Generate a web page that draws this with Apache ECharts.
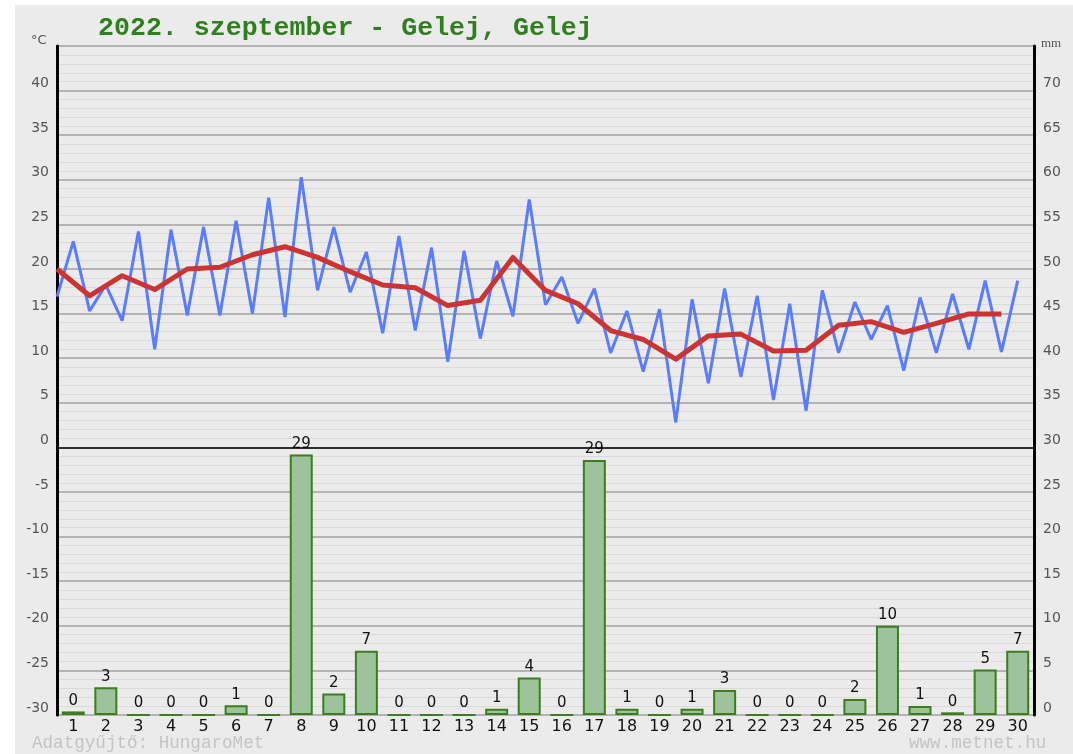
<!DOCTYPE html>
<html>
<head>
<meta charset="utf-8">
<script src="https://cdn.jsdelivr.net/npm/echarts@6/dist/echarts.min.js"></script>
<style>
html,body{margin:0;padding:0;background:#ffffff;}
#bg{position:absolute;left:15px;top:5px;width:1058px;height:749px;background:#ebebeb;}
#chart{position:absolute;left:0;top:0;width:1073px;height:754px;}
</style>
</head>
<body>
<div id="bg"></div>
<div id="chart"></div>
<script>
// Days of the month
const days = Array.from({length: 30}, (_, i) => String(i + 1));
// Daily precipitation (mm)
const precip = [0.4, 3.1, 0, 0, 0, 1.1, 0, 29.2, 2.4, 7.2,
                0, 0, 0, 0.7, 4.2, 0, 28.6, 0.7, 0, 0.7,
                2.8, 0, 0, 0, 1.8, 10.0, 1.0, 0.3, 5.1, 7.2];
// Half-daily temperature readings (°C), two per day
const tempHalfDaily = [
  16.9, 23.1, 15.3, 18.2, 14.2, 24.2, 11.0, 24.4, 14.8, 24.7,
  14.8, 25.4, 15.0, 28.0, 14.6, 30.3, 17.6, 24.7, 17.4, 21.9,
  12.8, 23.7, 13.1, 22.4, 9.6, 22.05, 12.2, 20.9, 14.7, 27.8,
  16.0, 19.1, 13.9, 17.8, 10.6, 15.3, 8.5, 15.5, 2.8, 16.6,
  7.2, 17.8, 7.9, 17.0, 5.3, 16.1, 4.1, 17.6, 10.6, 16.3,
  12.1, 15.9, 8.6, 16.8, 10.6, 17.2, 11.0, 18.7, 10.7, 18.7
];
// Daily mean temperature (°C)
const tempMean = [
  20.0, 17.0, 19.25, 17.7, 20.0, 20.2, 21.6, 22.5, 21.3, 19.7,
  18.2, 17.9, 15.9, 16.5, 21.3, 17.6, 16.1, 13.1, 12.1, 9.9,
  12.5, 12.7, 10.8, 10.9, 13.7, 14.1, 12.9, 13.9, 14.96, 14.96
];
const titleText = '2022. szeptember - Gelej, Gelej';
const footerLeft = 'Adatgyűjtő: HungaroMet';
const footerRight = 'www.metnet.hu';

const chart = echarts.init(document.getElementById('chart'), null, {renderer: 'canvas'});
const labelFont = 'DejaVu Sans';
const option = {
  backgroundColor: 'transparent',
  animation: false,
  title: {
    text: titleText,
    left: 93, top: 10,
    textStyle: {fontFamily: 'Liberation Mono', fontWeight: 'bold', fontSize: 26.6, color: '#2f7f1f'}
  },
  graphic: [
    {type: 'text', left: 31, top: 34, style: {text: '°C', fontFamily: labelFont, fontSize: 13, fill: '#555'}},
    {type: 'text', left: 1041, top: 37, style: {text: 'mm', fontFamily: 'Liberation Serif', fontSize: 13, fill: '#555'}},
    {type: 'text', left: 32, top: 734, style: {text: footerLeft, fontFamily: 'Liberation Mono', fontSize: 17.6, fill: '#c4c4c4'}},
    {type: 'text', left: 909, top: 734, style: {text: footerRight, fontFamily: 'Liberation Mono', fontSize: 17.6, fill: '#c4c4c4'}}
  ],
  grid: {left: 57, right: 39, top: 46, bottom: 39},
  xAxis: [
    {
      type: 'category', data: days, boundaryGap: true,
      axisLine: {show: false}, axisTick: {show: false}, splitLine: {show: false},
      axisLabel: {color: '#111', fontFamily: labelFont, fontSize: 16, margin: 4, interval: 0}
    },
    {
      type: 'value', min: 0, max: 30, show: false
    }
  ],
  yAxis: [
    {
      type: 'value', min: -30, max: 45, interval: 5, position: 'left',
      axisLine: {show: true, onZero: false, lineStyle: {color: '#000', width: 3}},
      axisTick: {show: false},
      axisLabel: {
        color: '#555', fontFamily: labelFont, fontSize: 14, margin: 8,
        verticalAlign: 'bottom', lineHeight: 14,
        formatter: v => (v === 45 ? '' : String(v))
      },
      splitLine: {show: true, lineStyle: {color: '#a0a0a0', width: 1.5}},
      minorTick: {show: false, splitNumber: 5},
      minorSplitLine: {show: true, lineStyle: {color: '#dadada', width: 1.2}}
    },
    {
      type: 'value', min: 0, max: 75, interval: 5, position: 'right',
      axisLine: {show: true, onZero: false, lineStyle: {color: '#000', width: 3}},
      axisTick: {show: false},
      axisLabel: {
        color: '#555', fontFamily: labelFont, fontSize: 14, margin: 9,
        verticalAlign: 'bottom', lineHeight: 14,
        formatter: v => (v === 75 ? '' : String(v))
      },
      splitLine: {show: false}
    }
  ],
  series: [
    {
      type: 'bar', xAxisIndex: 0, yAxisIndex: 1, data: precip,
      barWidth: 23,
      itemStyle: {color: '#9cc39c', borderColor: '#3d7d1e', borderWidth: 2},
      label: {
        show: true, position: 'top', distance: 3,
        color: '#111', fontFamily: labelFont, fontSize: 15,
        formatter: p => String(Math.round(p.value))
      },
      z: 2
    },
    {
      type: 'line', xAxisIndex: 1, yAxisIndex: 0,
      data: tempHalfDaily.map((v, k) => [k / 2, v]),
      symbol: 'none', lineStyle: {color: '#5a7cff', width: 3},
      z: 3
    },
    {
      type: 'line', xAxisIndex: 1, yAxisIndex: 0,
      data: tempMean.map((v, i) => [i, v]),
      symbol: 'none', lineStyle: {color: '#cc3333', width: 5, cap: 'butt', join: 'round'},
      markLine: {
        silent: true, symbol: 'none', label: {show: false},
        lineStyle: {color: '#000', width: 1.5, type: 'solid'},
        data: [{yAxis: 0}]
      },
      z: 4
    }
  ]
};
chart.setOption(option);
</script>
</body>
</html>
